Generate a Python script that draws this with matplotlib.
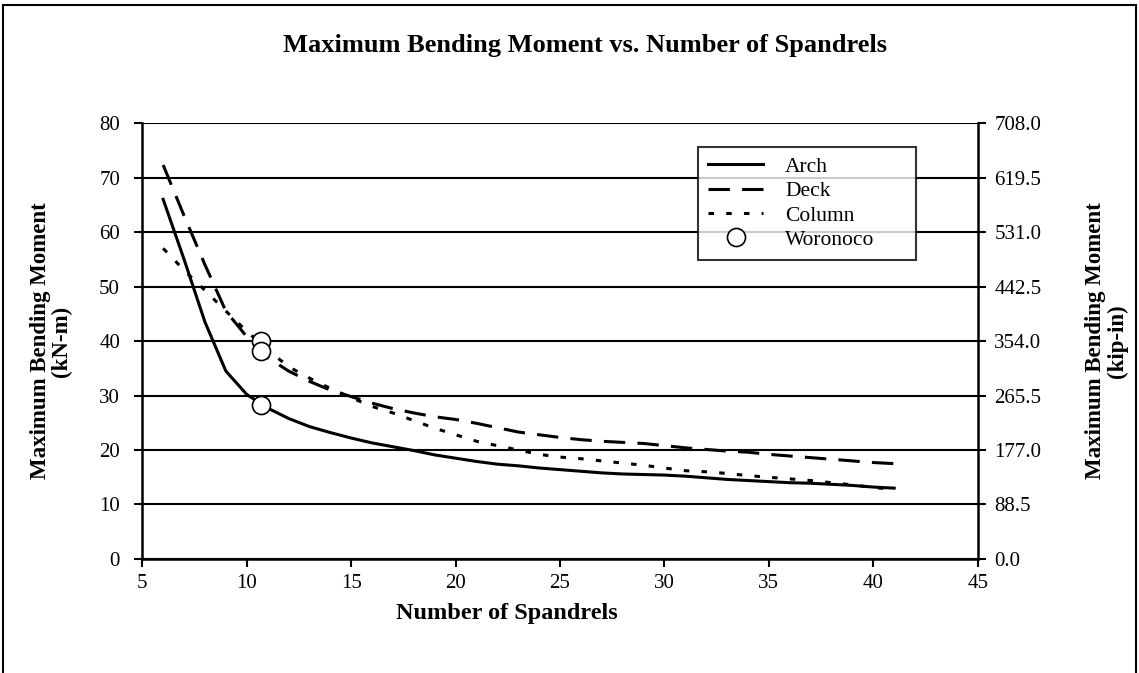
import matplotlib.pyplot as plt
from matplotlib.patches import Rectangle

# bending moment (kN-m) against number of spandrels
spandrels = list(range(6, 42))
arch = [66.0, 55.0, 43.5, 34.5, 30.2, 27.7, 25.8, 24.3, 23.2, 22.2,
        21.3, 20.6, 19.9, 19.1, 18.5, 17.9, 17.4, 17.1, 16.7, 16.4,
        16.1, 15.8, 15.6, 15.5, 15.4, 15.2, 14.9, 14.6, 14.4, 14.2,
        14.0, 13.9, 13.7, 13.5, 13.2, 13.0]
deck = [72.3, 63.0, 54.0, 45.5, 40.8, 37.0, 34.5, 32.6, 31.0, 29.8,
        28.6, 27.6, 26.8, 26.1, 25.6, 24.9, 24.1, 23.3, 22.8, 22.3,
        21.9, 21.6, 21.4, 21.2, 20.8, 20.4, 20.1, 19.8, 19.6, 19.2,
        18.9, 18.6, 18.3, 18.0, 17.7, 17.5]
column = [57.0, 53.0, 49.3, 45.5, 41.8, 38.4, 35.3, 33.2, 31.3, 29.6,
          28.0, 26.8, 25.4, 24.0, 22.8, 21.6, 20.8, 20.0, 19.2, 18.7,
          18.4, 18.0, 17.6, 17.2, 16.7, 16.2, 16.0, 15.7, 15.3, 15.0,
          14.7, 14.4, 14.0, 13.6, 13.1, 12.8]

# Woronoco bridge
woronoco_x = [10.7, 10.7, 10.7]
woronoco_y = [40.0, 38.2, 28.2]

KIP_IN = 8.85  # kip-in per kN-m

plt.rcParams['font.family'] = ['Liberation Serif', 'DejaVu Serif']

fig = plt.figure(figsize=(11.39, 6.73), dpi=100)
ax = fig.add_axes([0.1249, 0.1694, 0.7335, 0.6478])

ax.plot(spandrels, arch, color='black', lw=2.2, label='Arch')
ax.plot(spandrels, deck, color='black', lw=2.2, dashes=(7, 4), label='Deck')
ax.plot(spandrels, column, color='black', lw=2.2, dashes=(1.8, 4), label='Column')
ax.plot(woronoco_x, woronoco_y, ls='none', marker='o', ms=13,
        mfc='white', mec='black', mew=1.2, label='Woronoco')

ax.set_xlim(5, 45)
ax.set_ylim(0, 80)
ax.set_xticks(range(5, 46, 5))
ax.set_yticks(range(0, 81, 10))
ax.grid(axis='y', color='black', lw=1.5)
ax.set_axisbelow(True)
ax.spines['top'].set_visible(False)
ax.spines['right'].set_visible(False)
ax.spines['left'].set_linewidth(1.8)
ax.spines['bottom'].set_linewidth(1.8)
ax.tick_params(labelsize=15, length=6, width=1.5, direction='out')
ax.tick_params(axis='y', pad=10)
ax.tick_params(axis='x', pad=5)

ax2 = ax.twinx()
ax2.set_ylim(0, 80 * KIP_IN)
ax2.set_yticks([i * 10 * KIP_IN for i in range(9)])
ax2.set_yticklabels(['%.1f' % (i * 10 * KIP_IN) for i in range(9)])
ax2.spines['top'].set_visible(False)
ax2.spines['left'].set_visible(False)
ax2.spines['bottom'].set_visible(False)
ax2.spines['right'].set_linewidth(1.8)
ax2.tick_params(labelsize=15, length=6, width=1.5, direction='out', pad=6)

ax.set_xlabel('Number of Spandrels', fontsize=17.5, fontweight='bold')
ax.xaxis.set_label_coords(0.437, -0.10)
ax.set_ylabel('Maximum Bending Moment\n(kN-m)', fontsize=16.5, fontweight='bold',
              linespacing=1.0)
ax.yaxis.set_label_coords(-0.084, 0.5)
ax2.set_ylabel('Maximum Bending Moment\n(kip-in)', fontsize=16.5, fontweight='bold',
               linespacing=1.0)
ax2.yaxis.set_label_coords(1.129, 0.5)

fig.text(0.514, 0.933, 'Maximum Bending Moment vs. Number of Spandrels',
         ha='center', va='center', fontsize=19, fontweight='bold')

leg = ax.legend(loc='upper left', bbox_to_anchor=(0.665, 0.691, 0.261, 0.254),
                mode='expand', fontsize=15.5, frameon=True, fancybox=False,
                edgecolor='black', handlelength=2.6, handletextpad=1.0,
                borderpad=0.45, labelspacing=0.2, borderaxespad=0)
leg.get_frame().set_linewidth(1.5)

fig.patches.append(Rectangle((0.003, -0.01), 0.994, 1.003, transform=fig.transFigure,
                             fill=False, edgecolor='black', lw=1.5))

fig.savefig('out.png', dpi=100, facecolor='white')
